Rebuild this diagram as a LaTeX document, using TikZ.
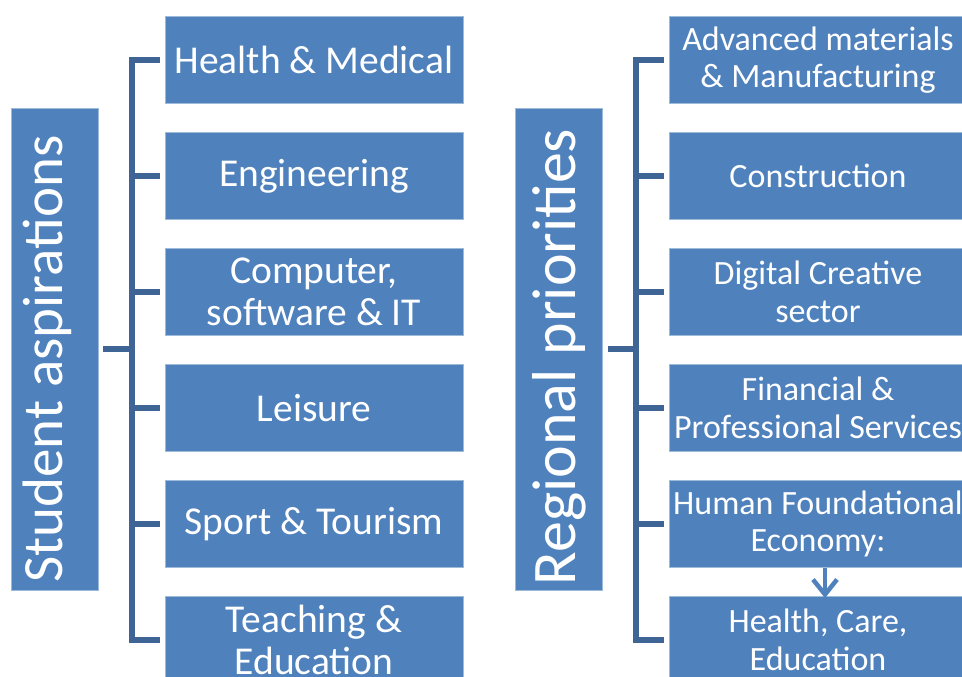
\documentclass[tikz,border=0pt]{standalone}
\usepackage{fontspec}
\setmainfont{Carlito}
\usetikzlibrary{arrows.meta}
\definecolor{boxblue}{HTML}{4F81BD}
\definecolor{linkblue}{HTML}{3E6596}

\begin{document}
\begin{tikzpicture}[x=1pt, y=-1pt,
  box/.style={fill=boxblue, draw=boxblue!55!white, line width=0.8pt, text=white, align=center, inner sep=0pt, minimum width=298pt, minimum height=87pt},
  headbox/.style={box, minimum width=87pt, minimum height=482pt},
  leftfont/.style={font=\fontsize{39.5}{42}\selectfont},
  rightfont/.style={font=\fontsize{34}{37.5}\selectfont},
  link/.style={draw=linkblue, line width=5.5pt},
  flow/.style={draw=boxblue, line width=4.5pt, -{Straight Barb[length=15pt,width=24pt]}}]
\useasboundingbox (0,0) rectangle (962,677);

% left tree
\node[headbox, font=\fontsize{57}{60}\selectfont] (stud) at (54.5,349) {\rotatebox{90}{\raisebox{7pt}[\height][\depth]{\kern-20pt Student aspirations}}};
\node[box, leftfont] (hm) at (314,60) {Health \& Medical};
\node[box, leftfont] (eng) at (314,176) {Engineering};
\node[box, leftfont] (comp) at (314,292) {Computer,\\software \& IT};
\node[box, leftfont] (leis) at (314,408) {Leisure};
\node[box, leftfont] (sport) at (314,524) {Sport \& Tourism};
\node[box, leftfont] (teach) at (314,640) {Teaching \&\\Education};

% right tree
\node[headbox, font=\fontsize{62}{65}\selectfont] (reg) at (559,349) {\rotatebox{90}{\kern-16pt Regional priorities}};
\node[box, rightfont] (adv) at (818,60) {Advanced materials\\\& Manufacturing};
\node[box, rightfont] (constr) at (818,176) {Construction};
\node[box, rightfont] (digi) at (818,292) {Digital Creative\\sector};
\node[box, rightfont] (fin) at (818,408) {Financial \&\\Professional Services};
\node[box, rightfont] (hfe) at (818,524) {Human Foundational\\Economy:};
\node[box, rightfont] (hce) at (818,640) {Health, Care,\\Education};

\coordinate (sl) at (132,349);
\coordinate (sr) at (636,349);

\draw[link] ([xshift=5pt]stud.east) -- (sl);
\draw[link] (sl) |- ([xshift=-5pt]hm.west);
\draw[link] (sl) |- ([xshift=-5pt]eng.west);
\draw[link] (sl) |- ([xshift=-5pt]comp.west);
\draw[link] (sl) |- ([xshift=-5pt]leis.west);
\draw[link] (sl) |- ([xshift=-5pt]sport.west);
\draw[link] (sl) |- ([xshift=-5pt]teach.west);

\draw[link] ([xshift=5pt]reg.east) -- (sr);
\draw[link] (sr) |- ([xshift=-5pt]adv.west);
\draw[link] (sr) |- ([xshift=-5pt]constr.west);
\draw[link] (sr) |- ([xshift=-5pt]digi.west);
\draw[link] (sr) |- ([xshift=-5pt]fin.west);
\draw[link] (sr) |- ([xshift=-5pt]hfe.west);
\draw[link] (sr) |- ([xshift=-5pt]hce.west);

\draw[flow] ([xshift=7pt]hfe.south) -- ([xshift=7pt,yshift=-2pt]hce.north);
\end{tikzpicture}
\end{document}
